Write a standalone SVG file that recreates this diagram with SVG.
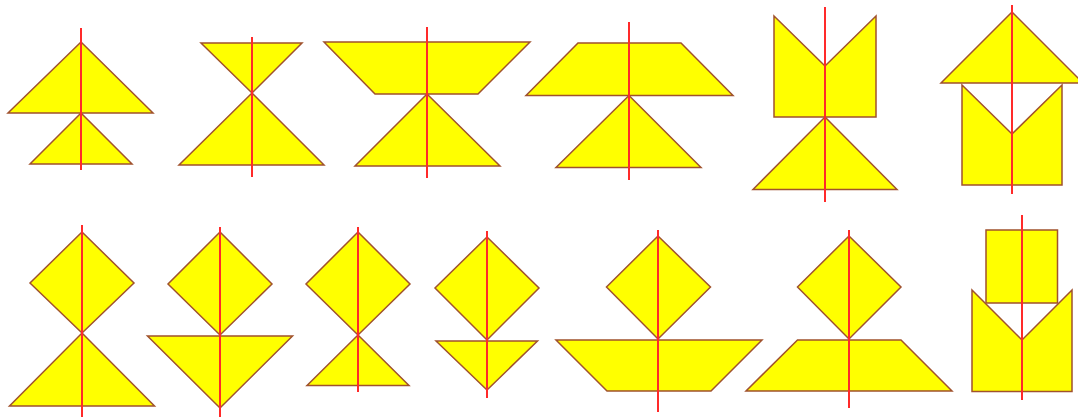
<svg xmlns="http://www.w3.org/2000/svg" width="1078" height="417" viewBox="0 0 1078 417">
<style>
.s{fill:#ffff00;stroke:#a0522d;stroke-width:1.5;stroke-linejoin:miter}
.a{stroke:#ff2a2a;stroke-width:2;fill:none}
</style>
<rect width="1078" height="417" fill="#ffffff"/>
<g id="fig1">
<polygon class="s" points="81,42 153,113 8,113"/>
<polygon class="s" points="81,113 132,164 30,164"/>
<line class="a" x1="81" y1="28" x2="81" y2="170"/>
</g>
<g id="fig2">
<polygon class="s" points="201,43 302,43 252,93"/>
<polygon class="s" points="252,93 324,165 179,165"/>
<line class="a" x1="252" y1="37" x2="252" y2="177"/>
</g>
<g id="fig3">
<polygon class="s" points="324,42 530,42 478,94 375,94"/>
<polygon class="s" points="427,94 500,166 355,166"/>
<line class="a" x1="427" y1="27" x2="427" y2="178"/>
</g>
<g id="fig4">
<polygon class="s" points="578,43 681,43 733,95.5 526,95.5"/>
<polygon class="s" points="629,95.5 701,167.5 556,167.5"/>
<line class="a" x1="629" y1="22" x2="629" y2="180"/>
</g>
<g id="fig5">
<polygon class="s" points="774,16 825,66 876,16 876,117 774,117"/>
<polygon class="s" points="825,117 897,189.5 753,189.5"/>
<line class="a" x1="825" y1="7" x2="825" y2="202"/>
</g>
<g id="fig6">
<polygon class="s" points="1012,12 1083,83 941,83"/>
<polygon class="s" points="962,85 1012,134 1062,85 1062,185 962,185"/>
<line class="a" x1="1012" y1="5" x2="1012" y2="194"/>
</g>
<g id="fig7">
<polygon class="s" points="82,232 134,283 82,333 30,283"/>
<polygon class="s" points="82,333 154.5,406 9.5,406"/>
<line class="a" x1="82" y1="225" x2="82" y2="417"/>
</g>
<g id="fig8">
<polygon class="s" points="220,232 272,284 220,335 168,284"/>
<polygon class="s" points="147.5,336 292.5,336 220,408"/>
<line class="a" x1="220" y1="227" x2="220" y2="417"/>
</g>
<g id="fig9">
<polygon class="s" points="358,232 410,284 358,335 306,284"/>
<polygon class="s" points="358,335 409,385.5 307,385.5"/>
<line class="a" x1="358" y1="227" x2="358" y2="392"/>
</g>
<g id="fig10">
<polygon class="s" points="487,237 539,288 487,340 435,288"/>
<polygon class="s" points="436,341 537.5,341 487,390"/>
<line class="a" x1="487" y1="231" x2="487" y2="398"/>
</g>
<g id="fig11">
<polygon class="s" points="658,236 710.5,287 658,339 606.5,287"/>
<polygon class="s" points="556,340 762,340 711,391 607,391"/>
<line class="a" x1="658" y1="230" x2="658" y2="412"/>
</g>
<g id="fig12">
<polygon class="s" points="849,236 901,287 849,339 797.5,287"/>
<polygon class="s" points="797.5,340 901,340 952,391 746,391"/>
<line class="a" x1="849" y1="230" x2="849" y2="408"/>
</g>
<g id="fig13">
<rect class="s" x="986" y="230" width="71.5" height="73"/>
<polygon class="s" points="972,290 1022,340 1072,290 1072,391.5 972,391.5"/>
<line class="a" x1="1022" y1="215" x2="1022" y2="400"/>
</g>
</svg>
